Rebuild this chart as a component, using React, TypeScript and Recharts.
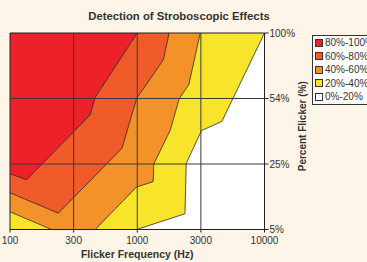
import React from "react";
import { AreaChart, Area, XAxis, YAxis, ReferenceLine, ReferenceArea, Legend, Label } from "recharts";

// x positions are tick indexes (100, 300, 1000, 3000, 10000 evenly spaced),
// y positions are tick indexes (5%, 25%, 54%, 100% evenly spaced)
const freqTicks = [0, 1, 2, 3, 4];
const freqLabels = ["100", "300", "1000", "3000", "10000"];
const pctTicks = [0, 1, 2, 3];
const pctLabels = ["5%", "25%", "54%", "100%"];

// lower edge of each band (band fills from edge up to 100%)
const band80 = [[0, 0.85], [0.26, 0.76], [1.26, 1.75], [1.34, 2.02], [2.0, 3]];
const band60 = [[0, 0.56], [0.76, 0.25], [1.76, 1.24], [1.99, 2.0], [2.41, 2.59], [2.5, 3]];
const band40 = [[0, 0.27], [0.655, 0], [1.34, 0], [1.99, 0.65], [2.25, 0.73], [2.26, 1.0], [2.52, 1.52], [2.66, 2.0], [2.81, 2.21], [2.99, 3]];
const band20 = [[0, 0], [1.99, 0], [2.75, 0.24], [2.77, 1.01], [3.01, 1.51], [3.33, 1.65], [4, 3]];

const legendLabels = ["80%-100%", "60%-80%", "40%-60%", "20%-40%", "0%-20%"];
const colors = ["#ed2129", "#f15a29", "#f39229", "#f8e42a", "#ffffff"];

const series: [string, number[][]][] = [
  ["p20", band20],
  ["p40", band40],
  ["p60", band60],
  ["p80", band80],
];

const rowMap = new Map<number, any>();
series.forEach(([key, pts]) => {
  pts.forEach(([x, y]) => {
    const row = rowMap.get(x) || { x };
    row[key] = y;
    rowMap.set(x, row);
  });
});
const data = Array.from(rowMap.values()).sort((a, b) => a.x - b.x);

const font = '"Liberation Sans", Arial, sans-serif';
const ink = "#333";

function LegendBox() {
  return (
    <div style={{ border: "1px solid #333", background: "#fff", fontFamily: font, fontSize: 10, color: ink, width: 70 }}>
      {legendLabels.map((l, i) => (
        <div key={l} style={{ height: 13.5, display: "flex", alignItems: "center" }}>
          <span style={{ width: 6, height: 6, border: "1px solid #333", background: colors[i], marginLeft: 2, marginRight: 2 }} />
          <span>{l}</span>
        </div>
      ))}
    </div>
  );
}

export default function App() {
  return (
    <div style={{ position: "fixed", left: 0, top: 0, width: 367, height: 262, background: "#fdf5e7", overflow: "hidden" }}>
      <div style={{ position: "absolute", left: 0, top: 10, width: 358, textAlign: "center", fontFamily: font, fontWeight: "bold", fontSize: 11.3, lineHeight: "13px", color: ink }}>
        Detection of Stroboscopic Effects
      </div>
      <AreaChart width={367} height={262} data={data} margin={{ top: 33, right: 29.5, bottom: 12.5, left: 10 }}>
        <ReferenceArea x1={0} x2={4} y1={0} y2={3} fill="#fff" fillOpacity={1} stroke="none" />
        {series.map(([key], i) => (
          <Area
            key={key}
            type="linear"
            dataKey={key}
            baseValue={3}
            connectNulls
            fill={colors[3 - i]}
            fillOpacity={1}
            stroke="#2b2b2b"
            strokeWidth={0.8}
            dot={false}
            activeDot={false}
            isAnimationActive={false}
          />
        ))}
        {[1, 2, 3].map((v) => (
          <ReferenceLine key={"x" + v} x={v} stroke="#3a3a3a" strokeWidth={1} />
        ))}
        {[1, 2].map((v) => (
          <ReferenceLine key={"y" + v} y={v} stroke="#3a3a3a" strokeWidth={1} />
        ))}
        <ReferenceArea x1={0} x2={4} y1={0} y2={3} fill="none" stroke="#222" strokeWidth={1} />
        <XAxis
          dataKey="x"
          type="number"
          domain={[0, 4]}
          ticks={freqTicks}
          interval={0}
          tickFormatter={(v: number) => freqLabels[v]}
          height={20}
          tickSize={3}
          tickMargin={4}
          stroke="#222"
          tick={{ fill: ink, fontSize: 10, fontFamily: font }}
        >
          <Label value="Flicker Frequency (Hz)" position="bottom" offset={1} style={{ fontFamily: font, fontWeight: "bold", fontSize: 10.5, fill: ink }} />
        </XAxis>
        <YAxis
          orientation="right"
          type="number"
          domain={[0, 3]}
          ticks={pctTicks}
          interval={0}
          tickFormatter={(v: number) => pctLabels[v]}
          width={73}
          tickSize={4}
          tickMargin={1}
          stroke="#222"
          tick={{ fill: ink, fontSize: 10, fontFamily: font }}
        >
          <Label value="Percent Flicker (%)" position="center" angle={-90} dx={1} dy={-5} style={{ fontFamily: font, fontWeight: "bold", fontSize: 10, fill: ink }} />
        </YAxis>
        <Legend
          layout="vertical"
          align="center"
          verticalAlign="middle"
          content={() => <LegendBox />}
          wrapperStyle={{ left: 312, top: 35, width: 72 }}
        />
      </AreaChart>
    </div>
  );
}
